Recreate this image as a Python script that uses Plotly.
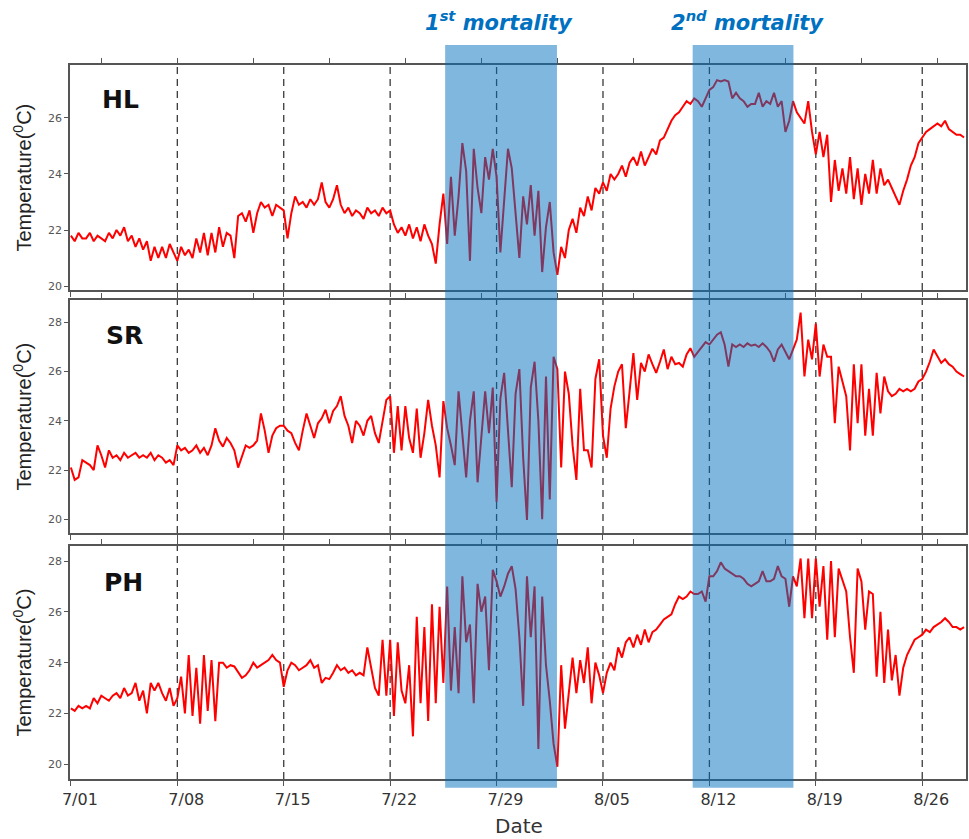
import pandas as pd
import plotly.graph_objects as go

# ---------------- data (6-hourly from 2017-07-01 00:00) ----------------
start_time = "2017-07-01 00:00"
sample_freq = "6h"

hl_temp = [
    21.8, 21.6, 21.9, 21.7, 21.7, 21.9, 21.6, 21.8, 21.7, 21.6, 21.9, 21.7,
    22.0, 21.8, 22.1, 21.6, 21.8, 21.4, 21.7, 21.3, 21.6, 20.9, 21.4, 21.0,
    21.4, 21.0, 21.5, 21.2, 20.9, 21.4, 21.1, 21.3, 21.0, 21.7, 21.2, 21.9,
    21.1, 21.9, 21.2, 22.1, 21.4, 21.9, 21.8, 21.0, 22.5, 22.6, 22.3, 22.7,
    21.9, 22.6, 23.0, 22.8, 22.9, 22.5, 22.9, 22.8, 22.7, 21.7, 22.6, 23.2,
    22.9, 23.0, 22.8, 23.1, 22.9, 23.1, 23.7, 23.0, 22.8, 23.1, 23.6, 22.9,
    22.6, 22.8, 22.5, 22.7, 22.6, 22.4, 22.8, 22.6, 22.7, 22.5, 22.8, 22.6,
    22.7, 22.2, 21.9, 22.1, 21.8, 22.2, 21.7, 22.1, 21.6, 22.2, 21.8, 21.5,
    20.8, 22.2, 23.3, 21.5, 23.9, 21.8, 23.2, 25.1, 24.1, 20.9, 24.9, 23.5,
    22.6, 24.6, 23.8, 24.9, 23.9, 21.2, 23.0, 24.9, 24.2, 22.7, 21.0, 23.2,
    22.2, 23.6, 21.8, 23.4, 20.5, 22.1, 23.0, 21.2, 20.4, 21.4, 21.0, 22.0,
    22.4, 21.9, 22.8, 22.5, 23.2, 22.7, 23.5, 23.3, 23.7, 23.4, 24.0, 23.8,
    24.0, 24.3, 23.9, 24.4, 24.6, 24.3, 24.8, 24.3, 24.6, 24.9, 24.7, 25.2,
    25.3, 25.6, 25.9, 26.1, 26.2, 26.4, 26.6, 26.5, 26.7, 26.6, 26.4, 26.7,
    27.0, 27.1, 27.35, 27.3, 27.35, 27.3, 26.7, 26.9, 26.7, 26.6, 26.4, 26.5,
    26.5, 26.9, 26.4, 26.6, 26.5, 26.9, 26.4, 26.6, 25.5, 25.9, 26.6, 26.2,
    26.0, 25.8, 26.6, 25.5, 24.7, 25.5, 24.6, 25.4, 23.0, 24.5, 23.4, 24.2,
    23.3, 24.6, 23.1, 24.2, 22.9, 24.0, 23.3, 24.5, 23.3, 24.2, 23.6, 23.8,
    23.5, 23.2, 22.9, 23.4, 23.8, 24.3, 24.6, 25.1, 25.3, 25.5, 25.6, 25.7,
    25.8, 25.7, 25.9, 25.6, 25.5, 25.4, 25.4, 25.3,
]

sr_temp = [
    22.1, 21.6, 21.7, 22.4, 22.3, 22.2, 22.0, 23.0, 22.6, 22.1, 22.8, 22.5,
    22.6, 22.4, 22.7, 22.5, 22.6, 22.7, 22.5, 22.6, 22.5, 22.7, 22.4, 22.6,
    22.5, 22.3, 22.4, 22.2, 23.0, 22.8, 22.9, 22.7, 22.8, 23.0, 22.7, 22.9,
    22.6, 23.0, 23.7, 23.2, 22.95, 23.3, 23.1, 22.8, 22.1, 22.6, 23.0, 22.9,
    23.0, 23.2, 24.3, 23.6, 22.7, 23.4, 23.7, 23.8, 23.8, 23.6, 23.5, 23.1,
    22.8, 23.6, 24.3, 23.8, 23.3, 23.9, 24.1, 24.45, 23.9, 24.4, 24.6, 25.0,
    24.2, 23.8, 23.1, 24.0, 23.8, 23.4, 24.0, 24.2, 23.5, 23.1, 24.0, 24.85,
    25.0, 22.7, 24.6, 22.8, 24.6, 23.3, 22.7, 24.5, 22.5, 23.5, 24.85, 23.8,
    23.0, 21.7, 24.8, 23.7, 23.0, 22.2, 25.2, 23.5, 21.7, 24.0, 25.2, 21.5,
    23.5, 25.2, 23.5, 25.35, 20.7, 24.9, 25.95, 23.5, 21.3, 25.1, 26.1, 22.5,
    19.97, 25.35, 26.4, 24.0, 20.0, 25.8, 20.8, 26.6, 26.1, 22.1, 26.0, 25.1,
    23.0, 21.6, 25.3, 22.8, 22.8, 22.1, 25.7, 26.5, 23.4, 22.5, 24.5, 25.4,
    26.0, 26.3, 23.7, 25.2, 26.75, 24.85, 26.35, 26.0, 26.7, 26.3, 25.95, 26.4,
    26.9, 26.1, 26.6, 26.3, 26.35, 26.2, 26.7, 26.95, 26.6, 26.8, 27.0, 27.2,
    27.1, 27.3, 27.5, 27.6, 27.1, 26.2, 27.1, 27.0, 27.1, 27.0, 27.15, 27.05,
    27.1, 27.0, 27.15, 27.0, 26.8, 26.4, 26.9, 27.1, 26.8, 26.5, 26.9, 27.3,
    28.4, 25.8, 27.3, 26.5, 27.95, 25.8, 27.1, 26.6, 26.6, 23.9, 26.2, 25.6,
    25.0, 22.8, 26.3, 23.9, 26.3, 23.4, 25.3, 23.4, 25.95, 24.3, 25.8, 25.2,
    25.0, 25.1, 25.3, 25.2, 25.3, 25.2, 25.3, 25.6, 25.7, 26.0, 26.4, 26.9,
    26.6, 26.35, 26.5, 26.3, 26.2, 26.0, 25.9, 25.8,
]

ph_temp = [
    22.2, 22.1, 22.3, 22.2, 22.3, 22.2, 22.6, 22.4, 22.7, 22.6, 22.5, 22.7,
    22.8, 22.6, 23.0, 22.7, 22.8, 23.2, 22.5, 22.9, 22.0, 23.2, 22.9, 23.2,
    22.8, 22.5, 23.0, 22.3, 22.6, 23.45, 22.0, 24.3, 21.9, 23.8, 21.6, 24.3,
    22.1, 24.1, 21.7, 24.0, 24.0, 23.8, 23.9, 23.85, 23.6, 23.4, 23.5, 23.7,
    24.0, 23.8, 23.9, 24.0, 24.1, 24.3, 24.1, 24.0, 23.05, 23.7, 24.0, 23.9,
    23.7, 23.8, 23.9, 24.1, 23.8, 23.9, 23.2, 23.4, 23.35, 23.6, 23.9, 23.7,
    23.8, 23.6, 23.7, 23.5, 23.6, 23.5, 24.6, 23.8, 23.0, 22.7, 24.9, 22.7,
    24.9, 21.9, 24.8, 22.9, 22.4, 23.9, 21.1, 25.8, 22.4, 25.4, 21.7, 26.3,
    22.4, 26.2, 23.2, 27.0, 22.9, 25.4, 22.8, 27.4, 24.8, 25.5, 22.4, 27.1,
    26.0, 26.6, 23.7, 27.65, 27.2, 26.6, 27.0, 27.5, 27.8, 26.9, 25.0, 22.3,
    27.4, 25.0, 27.0, 20.6, 26.6, 23.9, 22.5, 20.8, 19.9, 23.9, 21.4, 22.8,
    24.2, 22.8, 24.1, 23.2, 24.6, 22.4, 24.0, 23.5, 22.8, 23.6, 24.0, 23.7,
    24.6, 24.2, 24.8, 25.0, 24.6, 25.1, 24.7, 25.3, 24.8, 25.2, 25.3, 25.5,
    25.7, 25.8, 25.9, 26.3, 26.6, 26.5, 26.6, 26.8, 26.7, 26.7, 26.8, 26.4,
    27.4, 27.4, 27.6, 27.95, 27.7, 27.6, 27.5, 27.4, 27.4, 27.3, 27.1, 27.0,
    27.1, 27.2, 27.6, 27.2, 27.2, 27.3, 27.8, 27.4, 27.3, 26.2, 27.4, 27.0,
    28.1, 25.75, 28.1, 25.75, 28.1, 26.2, 27.8, 24.9, 28.0, 25.0, 27.7, 27.2,
    26.8, 25.0, 23.6, 27.7, 27.2, 25.3, 26.8, 26.7, 23.45, 26.0, 23.2, 25.3,
    23.3, 24.3, 22.7, 23.8, 24.3, 24.6, 24.9, 25.0, 25.1, 25.3, 25.2, 25.4,
    25.5, 25.6, 25.75, 25.6, 25.4, 25.4, 25.3, 25.4,
]

site_names = ["HL", "SR", "PH"]

week_tick_dates = ["2017-07-01", "2017-07-08", "2017-07-15", "2017-07-22", "2017-07-29",
                   "2017-08-05", "2017-08-12", "2017-08-19", "2017-08-26"]
week_tick_labels = ["7/01", "7/08", "7/15", "7/22", "7/29", "8/05", "8/12", "8/19", "8/26"]
top_tick_dates = ["2017-07-03", "2017-07-08", "2017-07-13", "2017-07-18", "2017-07-23",
                  "2017-07-28", "2017-08-02", "2017-08-07", "2017-08-12", "2017-08-17",
                  "2017-08-22", "2017-08-27"]

mortality_starts = ["2017-07-25 14:50", "2017-08-10 21:35"]
mortality_ends = ["2017-08-01 23:20", "2017-08-17 12:40"]
mortality_labels = ["1<sup>st</sup> mortality", "2<sup>nd</sup> mortality"]

hl_ticks = [20, 22, 24, 26]
sr_ticks = [20, 22, 24, 26, 28]
ph_ticks = [20, 22, 24, 26, 28]

# ---------------- figure ----------------
x_range = ["2017-06-30 22:35", "2017-08-28 21:05"]
y_ranges = [[19.86, 27.89], [19.44, 28.91], [19.42, 28.59]]
y_domains = [[0.6849, 1.0], [0.3445, 0.6709], [0.0, 0.3263]]
series = [hl_temp, sr_temp, ph_temp]
ticks = [hl_ticks, sr_ticks, ph_ticks]

AX = "#555555"
fig = go.Figure()

for i, vals in enumerate(series):
    n = i + 1
    t = pd.date_range(start_time, periods=len(vals), freq=sample_freq)
    fig.add_trace(go.Scatter(
        x=t, y=vals, mode="lines",
        line=dict(color="#FF0000", width=2),
        xaxis="x" if n == 1 else f"x{n}",
        yaxis="y" if n == 1 else f"y{n}",
        showlegend=False, hoverinfo="skip"))
    # empty trace to make the top overlay axis exist
    fig.add_trace(go.Scatter(
        x=[], y=[], xaxis=f"x{n + 3}",
        yaxis="y" if n == 1 else f"y{n}",
        showlegend=False, hoverinfo="skip"))

layout = dict(
    width=969, height=839,
    margin=dict(l=70, r=1, t=65, b=60),
    paper_bgcolor="white", plot_bgcolor="white",
    font=dict(family="DejaVu Sans", color="#333333"),
    showlegend=False,
)

for i in range(3):
    n = i + 1
    ykey = "yaxis" if n == 1 else f"yaxis{n}"
    xkey = "xaxis" if n == 1 else f"xaxis{n}"
    yname = "y" if n == 1 else f"y{n}"
    xname = "x" if n == 1 else f"x{n}"
    layout[ykey] = dict(
        domain=y_domains[i], range=y_ranges[i], anchor=xname,
        tickvals=ticks[i], ticks="outside", ticklen=4, tickwidth=1.2, tickcolor=AX,
        tickfont=dict(size=11, color="#555555", family="DejaVu Sans"),
        showline=True, linecolor=AX, linewidth=1.5, mirror=True,
        showgrid=False, zeroline=False, fixedrange=True)
    layout[xkey] = dict(
        domain=[0, 1], range=x_range, type="date", anchor=yname,
        tickvals=week_tick_dates, ticktext=week_tick_labels,
        showticklabels=(n == 3), ticks="outside", ticklen=5, tickwidth=1.2, tickcolor=AX,
        tickfont=dict(size=16, color="#333333", family="DejaVu Sans"),
        ticklabelshift=9,
        showline=True, linecolor=AX, linewidth=1.5,
        showgrid=False, zeroline=False)
    layout[f"xaxis{n + 3}"] = dict(
        overlaying=xname, anchor=yname, side="top", range=x_range, type="date",
        tickvals=top_tick_dates, showticklabels=False,
        ticks="outside", ticklen=5, tickwidth=1.2, tickcolor=AX,
        showline=True, linecolor=AX, linewidth=1.5,
        showgrid=False, zeroline=False)

fig.update_layout(**layout)

# dashed weekly lines in every panel
for i in range(3):
    yref = "y domain" if i == 0 else f"y{i + 1} domain"
    xref = "x" if i == 0 else f"x{i + 1}"
    for d in week_tick_dates[1:]:
        fig.add_shape(type="line", xref=xref, yref=yref, x0=d, x1=d, y0=0, y1=1,
                      line=dict(color="#3a3a3a", width=1.3, dash="7px,5px"), layer="below")

# mortality periods (drawn above the lines, translucent)
for s, e in zip(mortality_starts, mortality_ends):
    fig.add_shape(type="rect", xref="x", yref="paper", x0=s, x1=e, y0=-0.0122, y1=1.028,
                  fillcolor="#0070C0", opacity=0.5, line=dict(width=0), layer="above")

for lab, xc in zip(mortality_labels, [0.4788, 0.7561]):
    fig.add_annotation(text=lab, xref="paper", yref="paper", x=xc, y=1.0616,
                       showarrow=False, xanchor="center", yanchor="middle",
                       font=dict(size=21, color="#0070C0", family="DejaVu Sans",
                                 weight="bold", style="italic"))

# panel labels
label_pos = [(0.0568, 0.951), (0.0612, 0.6218), (0.0601, 0.2759)]
for name, (px, py) in zip(site_names, label_pos):
    fig.add_annotation(text=f"<b>{name}</b>", xref="paper", yref="paper", x=px, y=py,
                       showarrow=False, xanchor="center", yanchor="middle",
                       font=dict(size=25, color="#111111", family="DejaVu Sans"))

# y-axis titles
for yc in [0.8424, 0.5077, 0.1632]:
    fig.add_annotation(text="Temperature(<sup>0</sup>C)", xref="paper", yref="paper",
                       x=-0.0535, y=yc, textangle=-90, showarrow=False,
                       xanchor="center", yanchor="middle",
                       font=dict(size=20, color="#222222", family="Liberation Sans"))

fig.add_annotation(text="Date", xref="paper", yref="paper", x=0.5011, y=-0.0665,
                   showarrow=False, xanchor="center", yanchor="middle",
                   font=dict(size=20, color="#333333", family="DejaVu Sans"))

fig.write_html("out.html", config={"displayModeBar": False},
               post_script="document.body.style.margin='0px';document.body.style.overflow='hidden';")
